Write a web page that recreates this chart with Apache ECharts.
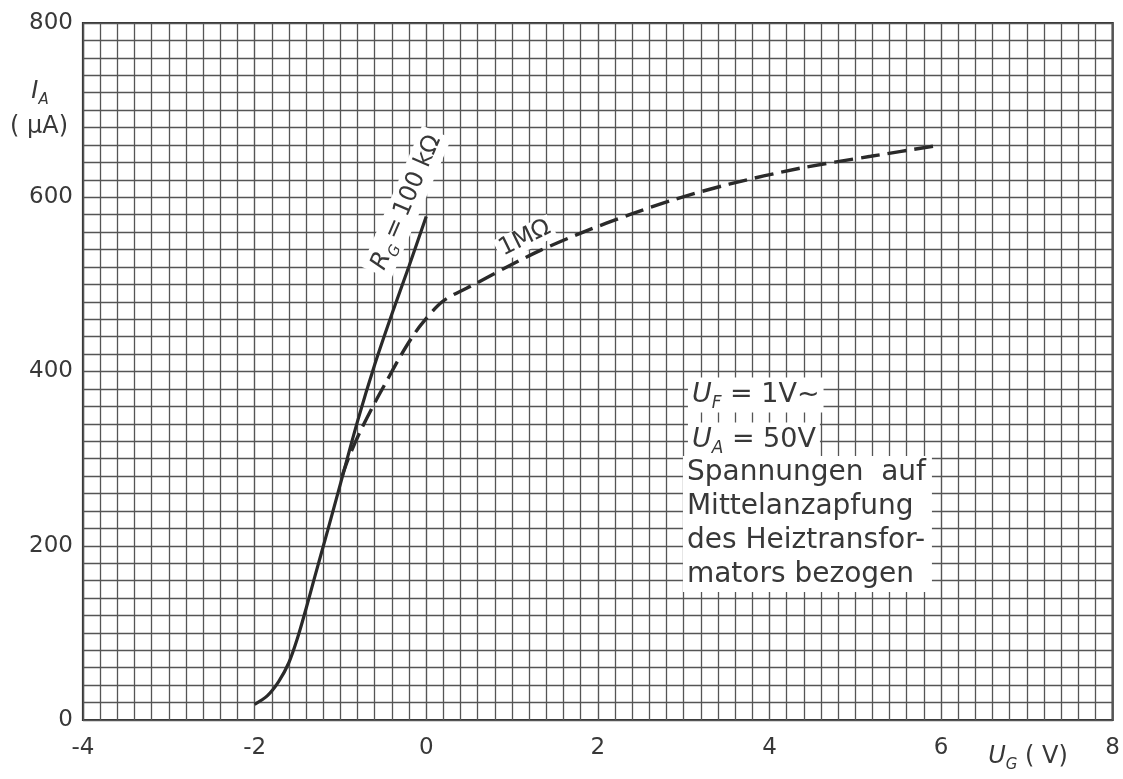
<!DOCTYPE html>
<html><head><meta charset="utf-8">
<script src="https://cdn.jsdelivr.net/npm/echarts@6/dist/echarts.min.js"></script>
<style>html,body{margin:0;padding:0;background:#fff}#c{width:1123px;height:779px}</style>
</head><body><div id="c"></div>
<script>
// Data
const xTicks = [-4, -2, 0, 2, 4, 6, 8];
const yTicks = [0, 200, 400, 600, 800];
// R_G = 100 kΩ (solid)
const solidX = [-2, -1.85, -1.72, -1.6, -1.5, -1.4, -1.3, -1.15, -1.0, -0.8, -0.6, -0.4, -0.2, 0];
const solidY = [18, 28, 44, 66, 94, 128, 164, 217, 271, 343, 408, 466, 521, 578];
// R_G = 1 MΩ (dashed)
const dashX = [-0.98, -0.9, -0.77, -0.6, -0.45, -0.31, -0.18, -0.05, 0.2, 0.6, 0.94, 1.33, 1.83, 2.37, 2.91, 3.53, 4.34, 5.18, 6.0];
const dashY = [280, 302, 331, 364, 391, 416, 437, 455, 481, 502, 520, 539, 560, 580, 598, 615, 633, 647, 660];
const noteLines = ['Spannungen  auf', 'Mittelanzapfung', 'des Heiztransfor-', 'mators bezogen'];

const FONT = "'DejaVu Sans',sans-serif";
const TXT = '#383838';
const GRIDC = '#555';

const chart = echarts.init(document.getElementById('c'));
const zip = (xs, ys) => xs.map((x, i) => [x, ys[i]]);

chart.setOption({
  animation: false,
  backgroundColor: '#fff',
  grid: {left: 83, right: 8, top: 23, bottom: 59, show: true, borderColor: '#333', borderWidth: 2.2},
  xAxis: {
    type: 'value', min: xTicks[0], max: xTicks[xTicks.length - 1], interval: 2,
    axisLine: {show: false}, axisTick: {show: false},
    axisLabel: {color: TXT, fontSize: 23, fontFamily: FONT, margin: 17},
    splitLine: {show: true, lineStyle: {color: GRIDC, width: 1.4}},
    minorTick: {show: false, splitNumber: 10},
    minorSplitLine: {show: true, lineStyle: {color: GRIDC, width: 1.3}}
  },
  yAxis: {
    type: 'value', min: yTicks[0], max: yTicks[yTicks.length - 1], interval: 200,
    axisLine: {show: false}, axisTick: {show: false},
    axisLabel: {color: TXT, fontSize: 23, fontFamily: FONT, margin: 10},
    splitLine: {show: true, lineStyle: {color: GRIDC, width: 1.4}},
    minorTick: {show: false, splitNumber: 10},
    minorSplitLine: {show: true, lineStyle: {color: GRIDC, width: 1.3}}
  },
  series: [
    {type: 'line', data: zip(solidX, solidY), smooth: 0.3, symbol: 'none',
     lineStyle: {color: '#2a2a2a', width: 3.2}, z: 5},
    {type: 'line', data: zip(dashX, dashY), smooth: 0.3, symbol: 'none',
     lineStyle: {color: '#2a2a2a', width: 3.4, type: [19, 8]}, z: 5}
  ]
});

const P = (x, y) => chart.convertToPixel({gridIndex: 0}, [x, y]);
function mkRich(fs, sfs) {
  return {
    n: {fontSize: fs, fontFamily: FONT, fill: TXT, lineHeight: fs + 8},
    i: {fontSize: fs, fontFamily: FONT, fontStyle: 'italic', fill: TXT, lineHeight: fs + 8},
    s: {fontSize: sfs, fontFamily: FONT, fontStyle: 'italic', fill: TXT, lineHeight: fs + 8, verticalAlign: 'bottom'}
  };
}
const r28 = mkRich(27, 17), r24 = mkRich(24, 15);
const pR = P(-0.23, 594), p1 = P(1.15, 553), pN = P(3.05, 373);
const graphics = [
  {type: 'text', x: pR[0], y: pR[1], rotation: 66.8 * Math.PI / 180, z: 10,
   style: {text: '{i|R}{s|G}{n|\u2009=\u2009100 kΩ}', rich: r24, align: 'center', verticalAlign: 'middle',
           backgroundColor: '#fff', padding: [0, 5, 0, 5]}},
  {type: 'text', x: p1[0], y: p1[1], rotation: 26 * Math.PI / 180, z: 10,
   style: {text: '1MΩ', fontSize: 24, fontFamily: FONT, fill: TXT, align: 'center', verticalAlign: 'middle',
           backgroundColor: '#fff', padding: [0, 3, 0, 3]}},
  {type: 'text', x: pN[0], y: pN[1], z: 10,
   style: {text: '{i|U}{s|F}{n| = 1V~}', rich: r28, verticalAlign: 'middle', backgroundColor: '#fff', padding: [0, 4, 0, 4]}},
  {type: 'text', x: pN[0], y: pN[1] + 45, z: 10,
   style: {text: '{i|U}{s|A}{n| = 50V}', rich: r28, verticalAlign: 'middle', backgroundColor: '#fff', padding: [0, 4, 0, 4]}},
  {type: 'text', x: pN[0] - 5, y: pN[1] + 61, z: 10,
   style: {text: noteLines.join('\n'), fontSize: 28, fontFamily: FONT, fill: TXT, lineHeight: 34,
           backgroundColor: '#fff', padding: [0, 6, 0, 4]}},
  {type: 'text', x: 40, y: 92, z: 10,
   style: {text: '{i|I}{s|A}', rich: r24, align: 'center', verticalAlign: 'middle'}},
  {type: 'text', x: 39, y: 127, z: 10,
   style: {text: '( μA)', fontSize: 24, fontFamily: FONT, fill: TXT, align: 'center', verticalAlign: 'middle'}},
  {type: 'text', x: 1028, y: 757, z: 10,
   style: {text: '{i|U}{s|G}{n| ( V)}', rich: r24, align: 'center', verticalAlign: 'middle'}}
];
chart.setOption({graphic: graphics});
</script></body></html>
